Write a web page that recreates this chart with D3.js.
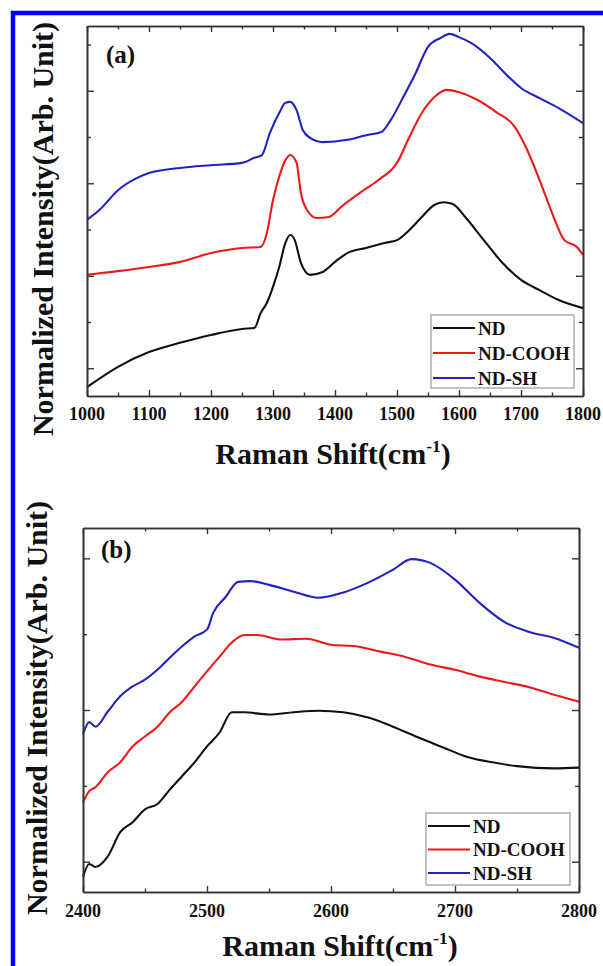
<!DOCTYPE html>
<html><head><meta charset="utf-8">
<script src="https://cdn.jsdelivr.net/npm/d3@7/dist/d3.min.js"></script>
<style>body{margin:0;background:#fff}svg{display:block}text{font-family:"Liberation Serif","Times New Roman",serif;font-weight:bold;fill:#111}</style>
</head><body>
<svg id="c" width="603" height="966"></svg>
<script>
// ---------- DATA ----------
const seriesNames = ["ND", "ND-COOH", "ND-SH"];
const seriesColors = ["#111111", "#ee1a1a", "#2222c4"];

// Panel (a): Raman shift 1000-1800 cm-1
const aX_ND   = [1000,1050,1100,1150,1200,1250,1270,1280,1290,1300,1310,1320,1328,1335,1345,1360,1380,1400,1420,1450,1480,1500,1520,1540,1560,1575,1590,1610,1640,1670,1700,1730,1760,1800];
const aY_ND   = [0.19,0.63,0.95,1.15,1.32,1.45,1.47,1.79,2.01,2.36,2.79,3.31,3.48,3.37,2.88,2.62,2.68,2.90,3.09,3.20,3.31,3.37,3.59,3.87,4.13,4.19,4.15,3.87,3.37,2.88,2.51,2.29,2.08,1.90];
const aX_COOH = [1000,1050,1100,1150,1200,1250,1280,1290,1300,1310,1320,1328,1338,1345,1355,1370,1390,1410,1440,1470,1500,1520,1540,1560,1580,1600,1630,1660,1690,1710,1730,1750,1770,1790,1800];
const aY_COOH = [2.62,2.70,2.79,2.90,3.09,3.20,3.22,3.52,4.24,4.74,5.10,5.21,5.04,4.39,4.02,3.85,3.87,4.09,4.39,4.67,5.04,5.60,6.12,6.46,6.62,6.57,6.40,6.14,5.82,5.32,4.67,3.96,3.37,3.22,3.05];
const aX_SH   = [1000,1020,1050,1080,1100,1150,1200,1250,1270,1282,1295,1310,1320,1328,1338,1348,1360,1380,1420,1450,1475,1490,1510,1530,1550,1570,1585,1600,1620,1650,1680,1700,1730,1760,1800];
const aY_SH   = [3.81,4.02,4.45,4.71,4.82,4.93,4.99,5.04,5.15,5.21,5.69,6.12,6.34,6.36,6.18,5.75,5.58,5.49,5.54,5.64,5.71,5.97,6.46,6.98,7.55,7.74,7.83,7.76,7.63,7.31,6.90,6.66,6.44,6.23,5.90];

// Panel (b): Raman shift 2400-2800 cm-1
const bX_ND   = [2400,2405,2410,2420,2430,2440,2450,2460,2470,2480,2490,2500,2510,2520,2530,2550,2570,2590,2610,2630,2650,2670,2690,2710,2730,2750,2780,2800];
const bY_ND   = [0.20,0.37,0.33,0.47,0.79,0.92,1.09,1.16,1.35,1.53,1.71,1.92,2.10,2.37,2.37,2.34,2.37,2.39,2.37,2.30,2.18,2.04,1.91,1.78,1.71,1.66,1.63,1.64];
const bX_COOH = [2400,2405,2410,2420,2430,2440,2450,2460,2470,2480,2490,2500,2510,2520,2530,2540,2560,2580,2600,2620,2640,2660,2680,2700,2720,2740,2760,2780,2800];
const bY_COOH = [1.18,1.33,1.38,1.58,1.71,1.92,2.05,2.18,2.37,2.51,2.71,2.91,3.10,3.29,3.39,3.39,3.33,3.34,3.26,3.24,3.17,3.10,3.00,2.93,2.84,2.77,2.70,2.60,2.51];
const bX_SH   = [2400,2405,2410,2420,2430,2440,2450,2460,2470,2480,2490,2500,2505,2515,2525,2535,2550,2570,2590,2610,2630,2650,2665,2680,2700,2720,2740,2760,2780,2800];
const bY_SH   = [2.08,2.24,2.18,2.38,2.58,2.71,2.80,2.93,3.09,3.24,3.37,3.46,3.68,3.89,4.09,4.10,4.05,3.96,3.88,3.95,4.08,4.25,4.39,4.34,4.12,3.81,3.56,3.43,3.35,3.22];

const aXTicks = [1000,1100,1200,1300,1400,1500,1600,1700,1800];
const bXTicks = [2400,2500,2600,2700,2800];
const aYTicks = [0.6,1.6,2.6,3.6,4.6,5.6,6.6,7.6];
const bYTicks = [0.4,1.4,2.4,3.4,4.4];
const xTitle = "Raman Shift(cm";
const xTitleSup = "-1";
const yTitle = "Normalized Intensity(Arb. Unit)";

// ---------- DRAW ----------
const svg = d3.select("#c");

// blue frame
svg.append("path").attr("d","M603,13 H13 V966").attr("fill","none").attr("stroke","#0000ff").attr("stroke-width",4.5);

function panel(o){
  const x = d3.scaleLinear().domain(o.xdom).range([o.l, o.r]);
  const y = d3.scaleLinear().domain(o.ydom).range([o.b, o.t]);
  const g = svg.append("g");
  const minor = d3.range(o.xdom[0], o.xdom[1]+1, 50).filter(v => v % 100 !== 0);

  // lines
  const line = d3.line().x(d=>x(d[0])).y(d=>y(d[1])).curve(d3.curveMonotoneX);
  o.series.forEach((s,i)=>{
    g.append("path").datum(s[0].map((v,k)=>[v,s[1][k]]))
      .attr("d",line).attr("fill","none").attr("stroke",seriesColors[i])
      .attr("stroke-width",2.1).attr("stroke-linejoin","round");
  });

  // axes (inward ticks)
  const ax = (gen, tr) => g.append("g").attr("transform",tr).call(gen)
      .call(s=>{s.select(".domain").attr("stroke","#333").attr("stroke-width",1.6);
               s.selectAll(".tick line").attr("stroke","#333").attr("stroke-width",1.4);});
  ax(d3.axisBottom(x).tickValues(o.xticks).tickSize(-6).tickSizeOuter(0).tickFormat(""), `translate(0,${o.b})`);
  ax(d3.axisBottom(x).tickValues(minor).tickSize(-3.5).tickSizeOuter(0).tickFormat(""), `translate(0,${o.b})`);
  ax(d3.axisTop(x).tickValues(o.xticks).tickSize(-6).tickSizeOuter(0).tickFormat(""), `translate(0,${o.t})`);
  ax(d3.axisTop(x).tickValues(minor).tickSize(-3.5).tickSizeOuter(0).tickFormat(""), `translate(0,${o.t})`);
  const yl = o.yticks.filter((v,i)=>i%2===0), ys = o.yticks.filter((v,i)=>i%2===1);
  ax(d3.axisLeft(y).tickValues(yl).tickSize(-7).tickSizeOuter(0).tickFormat(""), `translate(${o.l},0)`);
  ax(d3.axisLeft(y).tickValues(ys).tickSize(-4).tickSizeOuter(0).tickFormat(""), `translate(${o.l},0)`);
  ax(d3.axisRight(y).tickValues(yl).tickSize(-7).tickSizeOuter(0).tickFormat(""), `translate(${o.r},0)`);
  ax(d3.axisRight(y).tickValues(ys).tickSize(-4).tickSizeOuter(0).tickFormat(""), `translate(${o.r},0)`);

  // tick labels
  g.selectAll(".tl").data(o.xticks).join("text")
    .attr("x",d=>x(d)).attr("y",o.b+o.labOff).attr("text-anchor","middle")
    .attr("font-size",18).text(d=>d);

  // titles
  const xt = g.append("text").attr("x",(o.l+o.r)/2+o.xtDx).attr("y",o.xtY)
    .attr("text-anchor","middle").attr("font-size",o.xtSize);
  xt.append("tspan").text(xTitle);
  xt.append("tspan").attr("font-size",o.xtSize*0.58).attr("dy",-o.xtSize*0.4).text(xTitleSup);
  xt.append("tspan").attr("dy",o.xtSize*0.4).text(")");
  g.append("text").attr("transform",`translate(${o.ytX},${o.ytY}) rotate(-90)`)
    .attr("text-anchor","middle").attr("font-size",30).text(yTitle);

  // panel letter
  g.append("text").attr("x",o.l+o.letDx).attr("y",o.letY).attr("font-size",25).text(o.letter);

  // legend
  const L = o.leg;
  g.append("rect").attr("x",L.x).attr("y",L.y).attr("width",L.w).attr("height",L.h)
    .attr("fill","#fff").attr("stroke","#999").attr("stroke-width",1.2);
  seriesNames.forEach((n,i)=>{
    const yy = L.y + L.first + i*L.step;
    g.append("line").attr("x1",L.x+2).attr("x2",L.x+44).attr("y1",yy).attr("y2",yy)
      .attr("stroke",seriesColors[i]).attr("stroke-width",2.2);
    g.append("text").attr("x",L.x+47).attr("y",yy+6.5).attr("font-size",19).text(n);
  });
}

panel({xdom:[1000,1800], ydom:[0,8], l:87, r:583, t:26, b:396,
  xticks:aXTicks, yticks:aYTicks, labOff:24,
  series:[[aX_ND,aY_ND],[aX_COOH,aY_COOH],[aX_SH,aY_SH]],
  xtY:464, xtDx:-2, xtSize:30, ytX:53, ytY:229, letter:"(a)", letDx:19, letY:63,
  leg:{x:431,y:315,w:143,h:73,first:13,step:25}});

panel({xdom:[2400,2800], ydom:[0,4.8], l:83, r:579, t:528, b:892,
  xticks:bXTicks, yticks:bYTicks, labOff:25,
  series:[[bX_ND,bY_ND],[bX_COOH,bY_COOH],[bX_SH,bY_SH]],
  xtY:956, xtDx:9, xtSize:30, ytX:47, ytY:708, letter:"(b)", letDx:18, letY:558,
  leg:{x:426,y:813,w:144,h:72,first:13,step:23.5}});
</script>
</body></html>
